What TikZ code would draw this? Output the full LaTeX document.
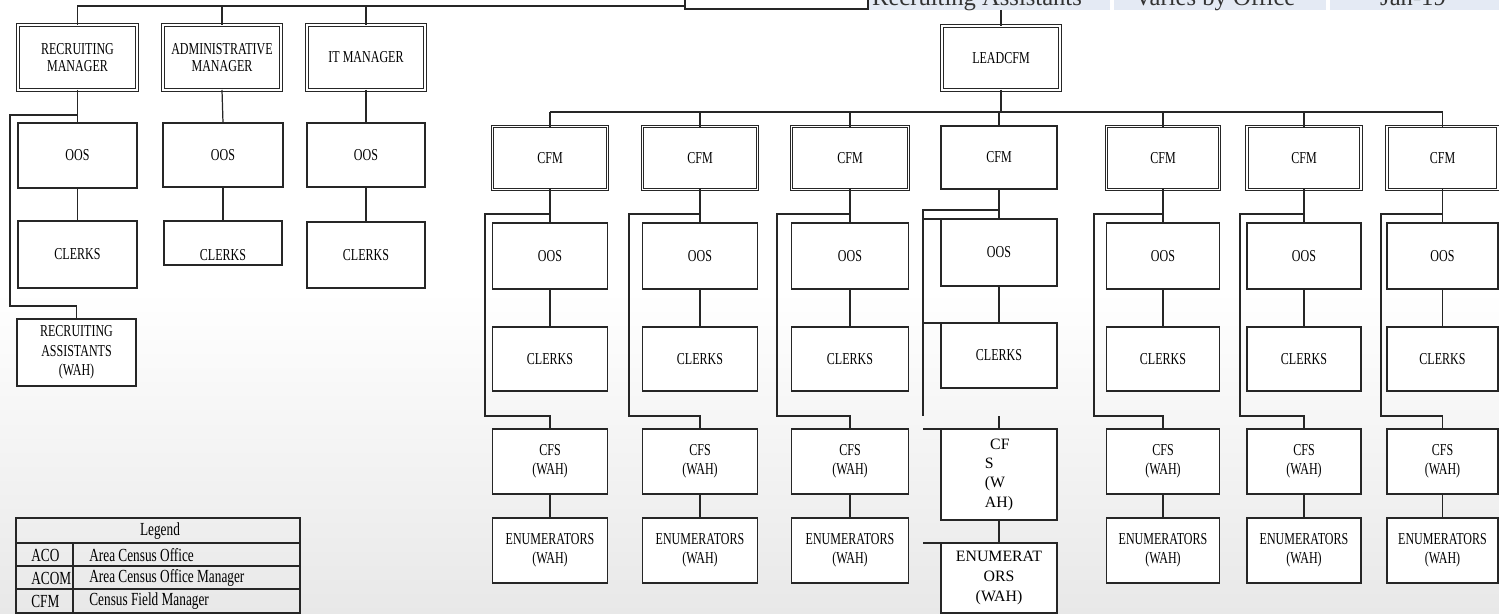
\documentclass[tikz,border=0pt]{standalone}
\usepackage{fontspec}
\setmainfont{Liberation Serif}
\newfontfamily\chartfont[FakeStretch=0.72]{Liberation Serif}
\usetikzlibrary{positioning}

\definecolor{cellblue}{HTML}{E4EAF4}

\tikzset{
  unit/.style={draw=black!85, line width=0.7pt, fill=white, inner sep=1pt, outer sep=0pt,
    align=center, font=\chartfont\fontsize{9.5}{11}\selectfont},
  headunit/.style={unit, double=white, double distance=0.8pt, line width=0.5pt,
    font=\chartfont\fontsize{9.5}{10}\selectfont},
  link/.style={draw=black!85, line width=0.7pt},
  legline/.style={draw=black!85, line width=0.8pt},
  legtext/.style={anchor=west, inner sep=0pt, font=\chartfont\fontsize{10.5}{12}\selectfont},
  hdtext/.style={anchor=base, inner sep=0pt, font=\fontsize{14}{16}\selectfont, text=black!80}
}

\begin{document}
\begin{tikzpicture}[x=0.02cm, y=-0.02cm]
\useasboundingbox (0,0) rectangle (1499,614);
\clip (0,0) rectangle (1499,614);

% Background
\fill[white] (0,0) rectangle (1499,614);
\shade[top color=white, bottom color=black!9] (0,290) rectangle (1499,614);

% Header row, cut off at the top
\fill[cellblue] (868,-20) rectangle (1110,10);
\fill[cellblue] (1114,-20) rectangle (1326,10);
\fill[cellblue] (1330,-20) rectangle (1499,10);
\node[hdtext] (hdrole) at (977,6) {Recruiting Assistants};
\node[hdtext] (hdwhere) at (1215,6) {Varies by Office};
\node[hdtext] (hdwhen) at (1413,6) {Jan-19};

% Office box, cut off
\node[unit, minimum width=3.66cm, minimum height=1.16cm] (acom) at (776.5,-20) {};

% Managers
\node[headunit, minimum width=2.38cm, minimum height=1.3cm] (rm) at (77.5,57.5) {RECRUITING\\MANAGER};
\node[headunit, minimum width=2.36cm, minimum height=1.3cm] (am) at (222,57.5) {ADMINISTRATIVE\\MANAGER};
\node[headunit, minimum width=2.36cm, minimum height=1.3cm] (it) at (366,57.5) {IT MANAGER};

\coordinate (topbus) at (0,6);
\draw[link] (rm.north) -- (rm.north |- topbus) -- (acom.west |- topbus);
\draw[link] (am.north) -- (am.north |- topbus);
\draw[link] (it.north) -- (it.north |- topbus);

% Manager units
\node[unit, minimum width=2.38cm, minimum height=1.3cm] (oosrm) at (77.5,155.5) {OOS};
\node[unit, minimum width=2.4cm, minimum height=1.28cm] (oosam) at (223,155) {OOS};
\node[unit, minimum width=2.36cm, minimum height=1.28cm] (oosit) at (366,155) {OOS};
\node[unit, minimum width=2.38cm, minimum height=1.34cm] (clkrm) at (77.5,254.5) {CLERKS};
\node[unit, minimum width=2.36cm, minimum height=0.88cm, text height=20pt, text depth=0pt] (clkam) at (223,243) {CLERKS};
\node[unit, minimum width=2.36cm, minimum height=1.32cm] (clkit) at (366,255) {CLERKS};
\node[unit, minimum width=2.38cm, minimum height=1.34cm] (ra) at (76.5,352.5) {RECRUITING\\ASSISTANTS\\(WAH)};

\draw[link] (rm.south) -- (oosrm.north);
\draw[link] (am.south) -- (oosam.north);
\draw[link] (it.south) -- (oosit.north);
\draw[link] (oosrm.south) -- (clkrm.north);
\draw[link] (oosam.south) -- (clkam.north);
\draw[link] (oosit.south) -- (clkit.north);
\coordinate (rmtap) at (77.5,115);
\draw[link] (rmtap) -| (10,306) -| (ra.north);

% Lead CFM
\node[headunit, minimum width=2.36cm, minimum height=1.28cm] (lead) at (1001,58) {LEADCFM};
\coordinate (leadtop) at (1001,10);
\coordinate (bus) at (1001,112);
\draw[link] (leadtop) -- (lead.north);
\draw[link] (lead.south) -- (bus);

% CFM columns
\foreach \c/\cx/\bx/\w in {a/550/485/2.3cm, b/700/629/2.3cm, c/850/777/2.34cm,
    e/1163/1094/2.26cm, f/1304/1240/2.28cm, g/1442.5/1381/2.22cm} {
  \node[headunit, minimum width=\w, minimum height=1.26cm] (cfm\c) at (\cx,158) {CFM};
  \node[unit, minimum width=\w, minimum height=1.32cm] (oos\c) at (\cx,256) {OOS};
  \node[unit, minimum width=\w, minimum height=1.28cm] (clk\c) at (\cx,359) {CLERKS};
  \node[unit, minimum width=\w, minimum height=1.3cm] (cfs\c) at (\cx,461.5) {CFS\\(WAH)};
  \node[unit, minimum width=\w, minimum height=1.3cm] (enm\c) at (\cx,550.5) {ENUMERATORS\\(WAH)};
  \coordinate (tap\c) at (\cx,214);
  \draw[link] (cfm\c.north) -- (cfm\c.north |- bus);
  \draw[link] (cfm\c.south) -- (oos\c.north);
  \draw[link] (oos\c.south) -- (clk\c.north);
  \draw[link] (tap\c) -| (\bx,416) -| (cfs\c.north);
  \draw[link] (cfs\c.south) -- (enm\c.north);
}
\draw[link] (cfma.north |- bus) -- (cfmg.north |- bus);

% Fourth column
\node[unit, minimum width=2.32cm, minimum height=1.26cm] (cfmd) at (999,157.5) {CFM};
\node[unit, minimum width=2.32cm, minimum height=1.34cm] (oosd) at (999,252.5) {OOS};
\node[unit, minimum width=2.32cm, minimum height=1.3cm] (clkd) at (999,355.5) {CLERKS};
\node[unit, minimum width=2.32cm, minimum height=1.82cm, align=left,
  font=\fontsize{9}{11}\selectfont] (cfsd) at (999,474.5) {\hspace*{3pt}CF\\S\\(W\\AH)};
\node[unit, minimum width=2.32cm, minimum height=1.4cm,
  font=\fontsize{9}{11.3}\selectfont] (enmd) at (999,578) {ENUMERAT\\ORS\\(WAH)};
\coordinate (tapd) at (999,210);
\draw[link] (cfmd.north) -- (cfmd.north |- bus);
\draw[link] (cfmd.south) -- (oosd.north);
\draw[link] (oosd.south) -- (clkd.north);
\draw[link] (tapd) -| (923,416);
\draw[link] (oosd.north west) -- ++(-18,0);
\draw[link] (clkd.north west) -- ++(-18,0);
\draw[link] (cfsd.north west) -- ++(-18,0);
\draw[link] (enmd.north west) -- ++(-18,0);
\draw[link] (cfsd.north) -- ++(0,-13);
\draw[link] (cfsd.south) -- (enmd.north);

% Legend
\draw[legline] (16,518) rectangle (300,613);
\foreach \y in {543,566,589}
  \draw[legline] (16,\y) -- (300,\y);
\draw[legline] (73,543) -- (73,613);
\node[legtext, anchor=center] (leghead) at (160,531) {Legend};
\node[legtext] (keyaco) at (31,555) {ACO};
\node[legtext] (defaco) at (89,555) {Area Census Office};
\node[legtext] (keyacom) at (31,578) {ACOM};
\node[legtext] (defacom) at (89,578) {Area Census Office Manager};
\node[legtext] (keycfm) at (31,601) {CFM};
\node[legtext] (defcfm) at (89,601) {Census Field Manager};

\end{tikzpicture}
\end{document}
